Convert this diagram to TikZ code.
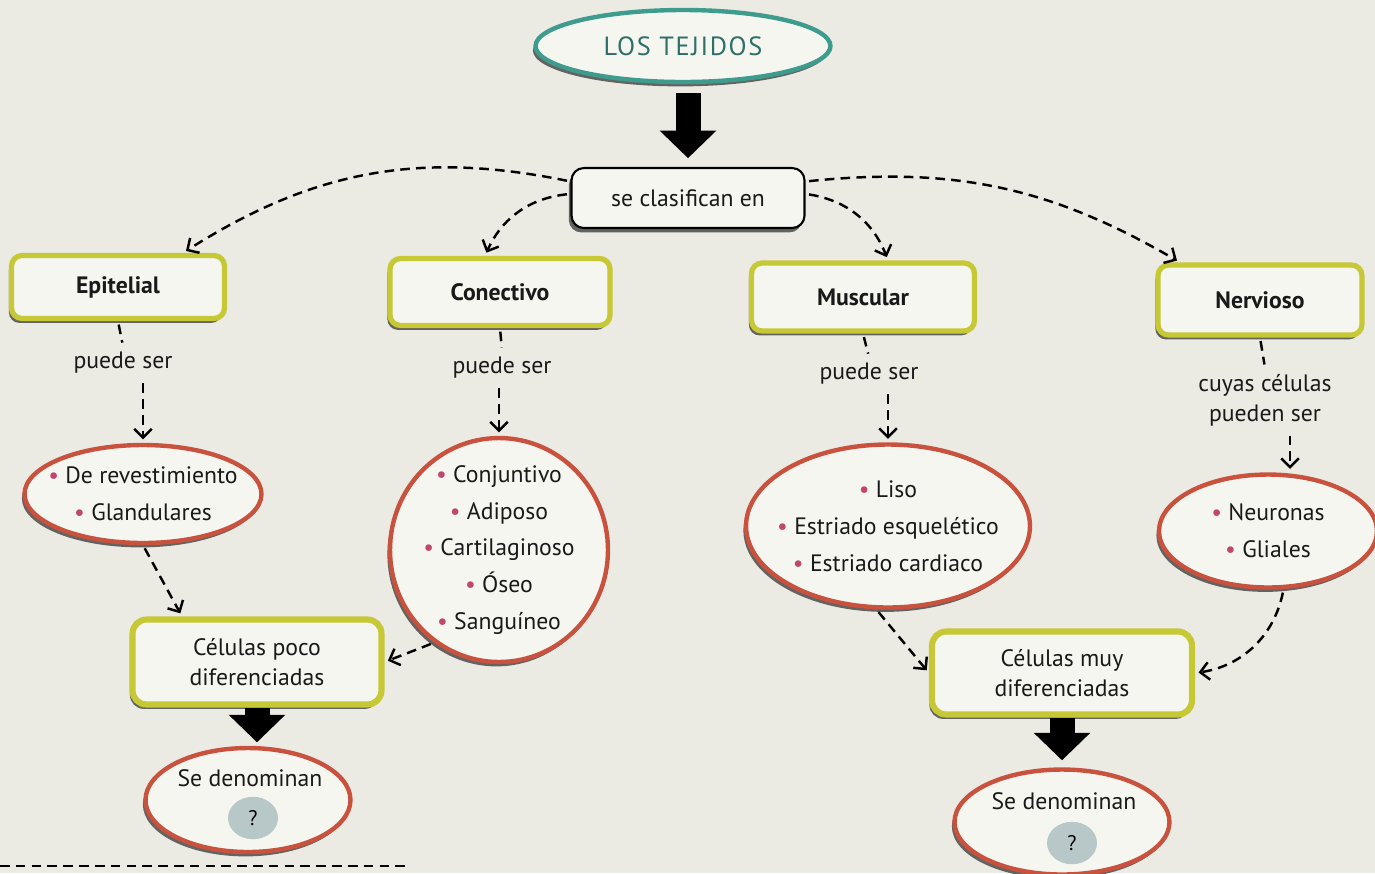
\documentclass[tikz,border=0pt]{standalone}
\usepackage{fontspec}
\setmainfont{PT Sans}
\usetikzlibrary{arrows.meta,positioning,shapes.geometric,shadows}
\definecolor{paper}{HTML}{ECEBE3}
\definecolor{boxfill}{HTML}{F6F6F1}
\definecolor{teal1}{HTML}{3E9C8E}
\definecolor{tealtxt}{HTML}{2F6F68}
\definecolor{olive1}{HTML}{C6C935}
\definecolor{redl}{HTML}{C9523F}
\definecolor{bul}{HTML}{C2456A}
\definecolor{qblob}{HTML}{B8C8C9}
\newcommand{\itm}[1]{{\color{bul}\textbullet}~#1}

\begin{document}
\begin{tikzpicture}[x=0.02cm, y=-0.02cm,
  txt/.style={font=\fontsize{13.5}{21}\selectfont, align=center, text=black!90},
  sh/.style={drop shadow={shadow xshift=-1.5pt, shadow yshift=-2.5pt, fill=black!70, opacity=.85}},
  title/.style={ellipse, draw=teal1, line width=2.5pt, fill=boxfill, sh, text=tealtxt,
    font=\fontsize{15}{17}\selectfont\addfontfeatures{LetterSpace=6}, minimum width=5.9cm, minimum height=1.44cm},
  link/.style={txt, rectangle, rounded corners=7pt, draw=black, line width=1.2pt, fill=boxfill, sh,
    minimum width=4.66cm, minimum height=1.2cm},
  tissue/.style={txt, font=\fontsize{13.5}{16}\selectfont\bfseries, rectangle, rounded corners=6pt,
    draw=olive1, line width=3pt, fill=boxfill, sh},
  kind/.style={txt, ellipse, draw=redl, line width=2.5pt, fill=boxfill, sh, inner sep=0pt},
  cellbox/.style={txt, font=\fontsize{13.5}{17}\selectfont, rectangle, rounded corners=8pt,
    draw=olive1, line width=3.5pt, fill=boxfill, sh},
  lab/.style={txt, font=\fontsize{13.5}{17}\selectfont},
  qb/.style={ellipse, fill=qblob, minimum width=1.0cm, minimum height=0.85cm, inner sep=0pt,
    font=\fontsize{12}{14}\selectfont},
  dseg/.style={dash pattern=on 5.5pt off 3.5pt, line width=1.4pt, shorten <=2pt, shorten >=2pt},
  dline/.style={dseg, -{Straight Barb[length=5pt,width=10pt]}},
  big/.style={line width=0.5cm, -{Triangle[length=0.55cm,width=1.1cm]}}]
  \fill[paper] (0,0) rectangle (1375,873);
  \useasboundingbox (0,0) rectangle (1375,873);
  % titulo
  \node[title] (tej) at (683,46) {LOS TEJIDOS};
  \node[link] (cls) at (688,198) {se clasifican en};
  % tipos de tejido
  \node[tissue, minimum width=4.26cm, minimum height=1.26cm] (epi) at (118,287) {Epitelial};
  \node[tissue, minimum width=4.4cm, minimum height=1.34cm] (con) at (500,292) {Conectivo};
  \node[tissue, minimum width=4.46cm, minimum height=1.36cm] (mus) at (863,297) {Muscular};
  \node[tissue, minimum width=4.08cm, minimum height=1.4cm] (ner) at (1260,300) {Nervioso};
  \node[lab] (pe) at (123,363) {puede ser};
  \node[lab] (pc) at (502,368) {puede ser};
  \node[lab] (pm) at (869,374) {puede ser};
  \node[lab] (pn) at (1265,400) {cuyas células\\pueden ser};
  % subtipos
  \node[kind, inner xsep=-12pt, minimum width=4.74cm, minimum height=1.96cm] (te) at (143,494)
    {\itm{De revestimiento}\\\itm{Glandulares}};
  \node[kind, inner xsep=-4pt, inner ysep=-6pt, minimum width=4.36cm, minimum height=4.48cm] (tc) at (499,550)
    {\itm{Conjuntivo}\\\itm{Adiposo}\\\itm{Cartilaginoso}\\\itm{Óseo}\\\itm{Sanguíneo}};
  \node[kind, inner xsep=-9pt, minimum width=5.68cm, minimum height=3.26cm] (tm) at (888,526)
    {\itm{Liso}\\\itm{Estriado esquelético}\\\itm{Estriado cardiaco}};
  \node[kind, minimum width=4.36cm, minimum height=2.26cm] (tn) at (1268,531)
    {\itm{Neuronas}\\\itm{Gliales}};
  % celulas
  \node[cellbox, minimum width=4.98cm, minimum height=1.7cm] (cp) at (257,662) {Células poco\\diferenciadas};
  \node[cellbox, minimum width=5.2cm, minimum height=1.66cm] (cm) at (1062,673) {Células muy\\diferenciadas};
  \node[kind, minimum width=4.1cm, minimum height=2.08cm] (dp) at (248,800) {};
  \node[lab] (dpt) at (250,778) {Se denominan};
  \node[qb] (qp) at (253,818) {?};
  \node[kind, minimum width=4.3cm, minimum height=2.1cm] (dm) at (1062,822) {};
  \node[lab] (dmt) at (1064,801) {Se denominan};
  \node[qb] (qm) at (1072,843) {?};
  % flechas
  \draw[big, shorten <=5pt, shorten >=5pt] (tej.south -| cls.north) -- (cls.north);
  \draw[big, shorten >=2pt] (cp.south) -- (cp.south |- dp.north);
  \draw[big, shorten >=4pt] (cm.south) -- (cm.south |- dm.north);
  \draw[dline] (cls.172) to[bend right=22] ([xshift=1.3cm]epi.north);
  \draw[dline] (cls.178) to[bend right=30] ([xshift=-0.3cm]con.north);
  \draw[dline] (cls.2) to[bend left=30] ([xshift=0.5cm]mus.north);
  \draw[dline] (cls.8) to[bend left=18] ([xshift=-1.6cm]ner.north);
  \draw[dseg] (epi.south) -- (pe.north);
  \draw[dseg] (con.south) -- (pc.north);
  \draw[dseg] (mus.south) -- (pm.north);
  \draw[dseg] (ner.south) -- (pn.north);
  \draw[dline] (pe.south -| te.north) -- (te.north);
  \draw[dline] (pc.south -| tc.north) -- (tc.north);
  \draw[dline] (pm.south -| tm.north) -- (tm.north);
  \draw[dline] ([xshift=0.5cm]pn.south) -- ([xshift=0.5cm]pn.south |- tn.north);
  \draw[dline] (te.south) -- ([xshift=-1.5cm]cp.north);
  \draw[dline] (tc.235) -- (cp.east);
  \draw[dline] (tm.262) -- (cm.west);
  \draw[dline] (tn.-75) to[bend left=35] (cm.east);
  \draw[dash pattern=on 5.5pt off 3.5pt, line width=1.2pt] (0,866) -- (410,866);
\end{tikzpicture}
\end{document}
